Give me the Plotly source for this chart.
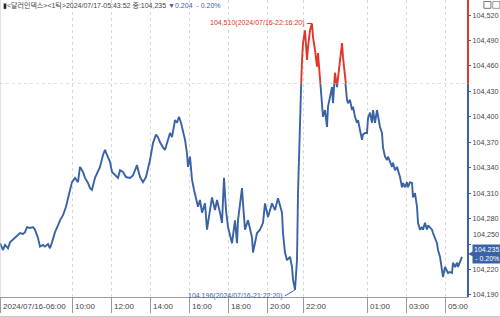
import plotly.graph_objects as go

# ---- data (tick index, price) ----
tick_idx = [0, 3, 5, 8, 10, 13, 15, 18, 20, 23, 25, 27, 30, 33, 35, 38, 40, 43, 45, 48,
            50, 52, 55, 58, 60, 63, 66, 68, 70, 72, 75, 78, 80, 83, 85, 88, 90, 92, 95, 98,
            100, 103, 105, 107, 110, 112, 115, 118, 120, 123, 126, 130, 133, 137, 140, 143, 146, 150, 153, 156,
            158, 160, 163, 165, 168, 170, 172, 175, 177, 179, 181, 183, 185, 187, 188, 190, 192, 194, 196, 198,
            200, 202, 205, 207, 210, 212, 215, 217, 220, 222, 224, 226, 228, 232, 235, 237, 238, 242, 243, 245,
            248, 252, 253, 257, 260, 263, 265, 268, 272, 275, 278, 282, 283, 285, 287, 290, 292, 293, 295, 297,
            298, 299, 300, 301, 302, 303, 305, 307, 308, 310, 312, 313, 315, 317, 318, 320, 322, 323, 325, 327,
            328, 330, 332, 333, 335, 337, 338, 340, 342, 343, 345, 347, 348, 350, 352, 353, 355, 357, 358, 360,
            362, 363, 365, 367, 368, 370, 372, 373, 375, 377, 378, 380, 382, 383, 385, 387, 388, 390, 392, 393,
            395, 397, 398, 400, 402, 403, 405, 407, 408, 410, 412, 413, 415, 417, 418, 420, 422, 423, 425, 427,
            428, 430, 432, 433, 435, 437, 438, 440, 442, 443, 445, 447, 448, 450, 452, 453, 455, 457, 458, 460,
            462]
price = [104.251, 104.243, 104.249, 104.245, 104.252, 104.255, 104.258, 104.260, 104.263, 104.262,
         104.264, 104.270, 104.269, 104.270, 104.267, 104.257, 104.247, 104.249, 104.247, 104.250,
         104.245, 104.252, 104.264, 104.272, 104.278, 104.284, 104.294, 104.304, 104.314, 104.323,
         104.328, 104.323, 104.341, 104.335, 104.328, 104.322, 104.316, 104.314, 104.328, 104.337,
         104.341, 104.355, 104.361, 104.355, 104.347, 104.335, 104.331, 104.328, 104.337, 104.335,
         104.329, 104.328, 104.331, 104.343, 104.329, 104.323, 104.329, 104.349, 104.369, 104.379,
         104.376, 104.370, 104.364, 104.361, 104.373, 104.381, 104.376, 104.396, 104.393, 104.400,
         104.393, 104.384, 104.373, 104.357, 104.341, 104.353, 104.326, 104.314, 104.302, 104.294,
         104.302, 104.287, 104.298, 104.267, 104.290, 104.305, 104.290, 104.302, 104.287, 104.275,
         104.328, 104.290, 104.270, 104.251, 104.278, 104.251, 104.278, 104.316, 104.298, 104.267,
         104.278, 104.258, 104.240, 104.263, 104.267, 104.275, 104.298, 104.282, 104.298, 104.290,
         104.304, 104.287, 104.263, 104.240, 104.231, 104.235, 104.223, 104.208, 104.196, 104.231,
         104.310, 104.364, 104.405, 104.432, 104.467, 104.487, 104.502, 104.467, 104.482, 104.502,
         104.510, 104.494, 104.479, 104.459, 104.475, 104.440, 104.408, 104.400, 104.408, 104.388,
         104.412, 104.423, 104.435, 104.416, 104.452, 104.435, 104.447, 104.467, 104.487, 104.470,
         104.443, 104.420, 104.416, 104.420, 104.408, 104.412, 104.400, 104.393, 104.396, 104.386,
         104.373, 104.379, 104.381, 104.381, 104.398, 104.405, 104.393, 104.408, 104.393, 104.408,
         104.400, 104.388, 104.381, 104.364, 104.353, 104.349, 104.353, 104.346, 104.341, 104.346,
         104.337, 104.341, 104.337, 104.329, 104.317, 104.322, 104.317, 104.323, 104.317, 104.323,
         104.322, 104.305, 104.310, 104.294, 104.275, 104.267, 104.270, 104.267, 104.275, 104.267,
         104.272, 104.270, 104.267, 104.263, 104.258, 104.251, 104.243, 104.235, 104.219, 104.211,
         104.223, 104.219, 104.216, 104.217, 104.216, 104.228, 104.223, 104.228, 104.223, 104.229,
         104.235]

prev_close = 104.439
last_price = 104.235
change = 0.204
change_pct = -0.20
high_label = "104,510(2024/07/16-22:16:20)"
low_label = "104.196(2024/07/16-21:22:20)"

x_tick_pos = [0, 72, 111, 150, 189, 228, 267, 303, 367, 406, 445]
x_tick_text = ["2024/07/16-06:00", "10:00", "12:00", "14:00", "16:00", "18:00",
               "20:00", "22:00", "01:00", "03:00", "05:00"]
y_ticks = [104.19, 104.22, 104.25, 104.28, 104.31, 104.34, 104.37, 104.40,
           104.43, 104.46, 104.49, 104.52]
y_tick_text = ["104,190", "104,220", "104,250", "104,280", "104,310", "104,340", "104,370",
               "104,400", "104,430", "104,460", "104,490", "104,520"]
# labels the chart pushes aside to make room for the last-price tag
pushed_label = "104,250"

BLUE = "#3a63a6"
RED = "#e0362c"
TXT = "#444444"
FONT = "Liberation Sans"

y_lo, y_hi = 104.1876, 104.5377
x_lo, x_hi = 0, 468
d = (prev_close - y_lo) / (y_hi - y_lo)

axis_text = [("" if t == pushed_label else t) for t in y_tick_text]

fig = go.Figure()
# baseline (previous close) on the main axis
fig.add_trace(go.Scatter(x=[x_lo, x_hi], y=[prev_close, prev_close], mode="lines",
                         line=dict(color="#333333", width=1, dash="dot"),
                         hoverinfo="skip", showlegend=False, yaxis="y"))
# blue part (below previous close) - clipped by lower subplot
fig.add_trace(go.Scatter(x=tick_idx, y=price, mode="lines",
                         line=dict(color=BLUE, width=1.9), showlegend=False, yaxis="y2"))
# red part (above previous close) - clipped by upper subplot
fig.add_trace(go.Scatter(x=tick_idx, y=price, mode="lines",
                         line=dict(color=RED, width=1.9), showlegend=False, yaxis="y3"))

fig.update_layout(
    width=500, height=317,
    margin=dict(l=0, r=32, t=0, b=20),
    paper_bgcolor="white", plot_bgcolor="white",
    showlegend=False,
    xaxis=dict(range=[x_lo, x_hi], tickvals=x_tick_pos, showticklabels=False,
               ticks="outside", ticklen=15, tickcolor="#9a9a9a", tickwidth=1,
               showgrid=True, gridcolor="#d8d8d8", griddash="dot", gridwidth=1,
               showline=True, linecolor="#9a9a9a", linewidth=1,
               zeroline=False, fixedrange=True),
    yaxis=dict(domain=[0, 1], range=[y_lo, y_hi], side="right", tickvals=y_ticks,
               ticktext=axis_text, tickfont=dict(family=FONT, size=7.2, color=TXT),
               ticks="outside", ticklen=2, tickcolor=BLUE,
               showgrid=True, gridcolor="#d8d8d8", griddash="dot", gridwidth=1,
               showline=False, zeroline=False),
    yaxis2=dict(domain=[0, d], range=[y_lo, prev_close], anchor="x", visible=False,
                showgrid=False, zeroline=False),
    yaxis3=dict(domain=[d, 1], range=[prev_close, y_hi], anchor="x", visible=False,
                showgrid=False, zeroline=False),
)

# pushed y label
for v, t in zip(y_ticks, y_tick_text):
    if t == pushed_label:
        fig.add_annotation(x=1, y=v, xref="paper", yref="y", xanchor="left", yanchor="middle",
                           text=t, showarrow=False, xshift=3, yshift=10,
                           font=dict(family=FONT, size=7.2, color=TXT))

# right axis line: red above prev close, blue below
fig.add_shape(type="line", xref="paper", yref="y", x0=1, x1=1, y0=prev_close, y1=y_hi,
              line=dict(color=RED, width=2))
fig.add_shape(type="line", xref="paper", yref="y", x0=1, x1=1, y0=y_lo, y1=prev_close,
              line=dict(color=BLUE, width=2))
# left border & bottom border of label strip
fig.add_shape(type="line", xref="paper", yref="paper", x0=0, x1=0, y0=0, y1=1,
              line=dict(color="#c8c8c8", width=1))
fig.add_shape(type="line", xref="paper", yref="paper", x0=0, x1=1.068, y0=-19.5 / 297, y1=-19.5 / 297,
              line=dict(color="#c8c8c8", width=1))

# x tick labels (left-aligned to the right of tick marks)
for xv, tx in zip(x_tick_pos, x_tick_text):
    fig.add_annotation(x=xv, y=0, xref="x", yref="paper", text=tx, showarrow=False,
                       xanchor="left", yanchor="top", xshift=1, yshift=-3,
                       font=dict(family=FONT, size=8, color=TXT))

# header
fig.add_annotation(x=0, y=1, xref="paper", yref="paper", xanchor="left", yanchor="top",
                   showarrow=False, yshift=1, xshift=1,
                   text=("<span style='color:#222'>▮</span>&lt;달러인덱스&gt;&lt;1틱&gt;2024/07/17-05:43:52 종:"
                         + f"{last_price:.3f}".replace(".", ",")
                         + f" <span style='color:{BLUE}'>▼{change:.3f}  - {abs(change_pct):.2f}%</span>"),
                   font=dict(family="Liberation Sans, Noto Sans CJK KR", size=7, color=TXT))

# high / low annotations
i_max = price.index(max(price))
i_min = price.index(min(price))
fig.add_annotation(x=tick_idx[i_max], y=price[i_max], xref="x", yref="y", text=high_label,
                   showarrow=True, arrowhead=0, arrowwidth=1, arrowcolor=RED,
                   ax=-5, ay=0, xanchor="right", yanchor="middle",
                   font=dict(family=FONT, size=7, color=RED))
fig.add_annotation(x=tick_idx[i_min], y=price[i_min], xref="x", yref="y", text=low_label,
                   showarrow=True, arrowhead=0, arrowwidth=1, arrowcolor=BLUE,
                   ax=-10, ay=6, xanchor="right", yanchor="middle",
                   font=dict(family=FONT, size=7, color=BLUE))

# last price tag
fig.add_annotation(x=1, y=last_price, xref="paper", yref="y", xanchor="left", yanchor="middle",
                   text="◀", showarrow=False, xshift=-2, yshift=3,
                   font=dict(family="DejaVu Sans", size=8, color=BLUE))
fig.add_annotation(x=1, y=last_price, xref="paper", yref="y", xanchor="left", yanchor="middle",
                   text=f"{last_price:.3f}<br>- {abs(change_pct):.2f}%", showarrow=False,
                   xshift=4, yshift=3, bgcolor=BLUE, borderpad=1, align="right",
                   font=dict(family=FONT, size=7, color="white"))

# window buttons top-right
fig.add_shape(type="rect", xref="paper", yref="paper", x0=1.034, x1=1.049, y0=0.972, y1=0.995,
              line=dict(color="#777", width=1))
fig.add_shape(type="rect", xref="paper", yref="paper", x0=1.053, x1=1.068, y0=0.972, y1=0.995,
              line=dict(color="#999", width=1))

fig.write_html("out.html")
